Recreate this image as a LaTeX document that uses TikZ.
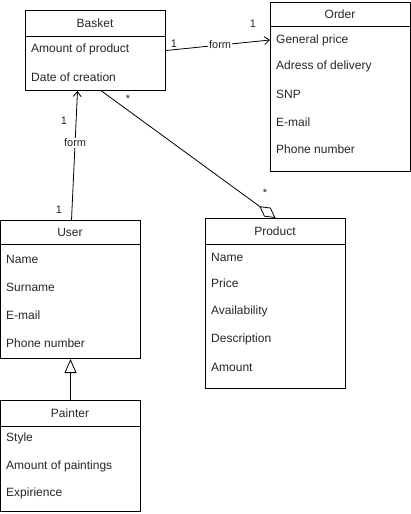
\documentclass[tikz,border=0pt]{standalone}
\usepackage{fontspec}
\setmainfont{Liberation Sans}
\usetikzlibrary{arrows.meta}
\begin{document}
\begin{tikzpicture}[x=1pt,y=-1pt,
  cls/.style={draw, line width=1pt, anchor=north west, inner sep=0pt, minimum width=140pt},
  title/.style={font=\fontsize{12}{14}\selectfont, text=black!85},
  attr/.style={anchor=west, inner xsep=6pt, inner ysep=0pt, font=\fontsize{12}{14}\selectfont, text=black!85},
  lbl/.style={font=\fontsize{11}{13}\selectfont, text=black!85, inner sep=1pt},
  conn/.style={line width=0.8pt},
  openarrow/.style={-{Straight Barb[length=5pt,width=8pt,line width=0.8pt]}},
  aggr/.style={-{Diamond[open,length=20pt,width=11pt,line width=0.8pt]}},
  gen/.style={-{Triangle[open,length=14pt,width=12pt,line width=0.8pt]}}
]
\useasboundingbox (0,0) rectangle (411,514);

% Basket
\node[cls, minimum height=80pt] (basket) at (25,10) {};
\node[title] (basketT) at (95,23) {Basket};
\draw[line width=1pt] (25,36) -- (165,36);
\node[attr] (ba1) at (25,49) {Amount of product};
\node[attr] (ba2) at (25,77) {Date of creation};

% Order
\node[cls, minimum height=169pt] (order) at (270,2) {};
\node[title] (orderT) at (340,14) {Order};
\draw[line width=1pt] (270,26) -- (410,26);
\node[attr] (oa1) at (270,40) {General price};
\node[attr] (oa2) at (270,66) {Adress of delivery};
\node[attr] (oa3) at (270,94) {SNP};
\node[attr] (oa4) at (270,122) {E-mail};
\node[attr] (oa5) at (270,149) {Phone number};

% User
\node[cls, minimum height=138pt] (user) at (0,220) {};
\node[title] (userT) at (70,232) {User};
\draw[line width=1pt] (0,244) -- (140,244);
\node[attr] (ua1) at (0,259) {Name};
\node[attr] (ua2) at (0,287) {Surname};
\node[attr] (ua3) at (0,315) {E-mail};
\node[attr] (ua4) at (0,343) {Phone number};

% Painter
\node[cls, minimum height=111pt] (painter) at (0,400) {};
\node[title] (painterT) at (70,413) {Painter};
\draw[line width=1pt] (0,426) -- (140,426);
\node[attr] (pa1) at (0,438) {Style};
\node[attr] (pa2) at (0,466) {Amount of paintings};
\node[attr] (pa3) at (0,493) {Expirience};

% Product
\node[cls, minimum height=170pt] (product) at (205,218) {};
\node[title] (productT) at (275,231) {Product};
\draw[line width=1pt] (205,244) -- (345,244);
\node[attr] (pr1) at (205,257) {Name};
\node[attr] (pr2) at (205,283) {Price};
\node[attr] (pr3) at (205,311) {Availability};
\node[attr] (pr4) at (205,339) {Description};
\node[attr] (pr5) at (205,367) {Amount};

% Basket -> Order
\draw[conn, openarrow] (basket.east) -- node[lbl, fill=white, pos=0.52] (f1) {form} (oa1.west);
\node[lbl] (m1) at (174,44) {1};
\node[lbl] (m2) at (253,24) {1};

% User -> Basket
\draw[conn, openarrow] ([xshift=1pt]user.north) -- node[lbl, fill=white, pos=0.6] (f2) {form} ([xshift=-18pt]basket.south);
\node[lbl] (m3) at (64,121) {1};
\node[lbl] (m4) at (59,210) {1};

% Basket - Product aggregation
\draw[conn, aggr] ([xshift=6pt]basket.south) -- (product.north);
\node[lbl] (s1) at (128,99) {*};
\node[lbl] (s2) at (265,193) {*};

% Painter -> User generalization
\draw[conn, gen] (painter.north) -- (user.south);
\end{tikzpicture}
\end{document}
